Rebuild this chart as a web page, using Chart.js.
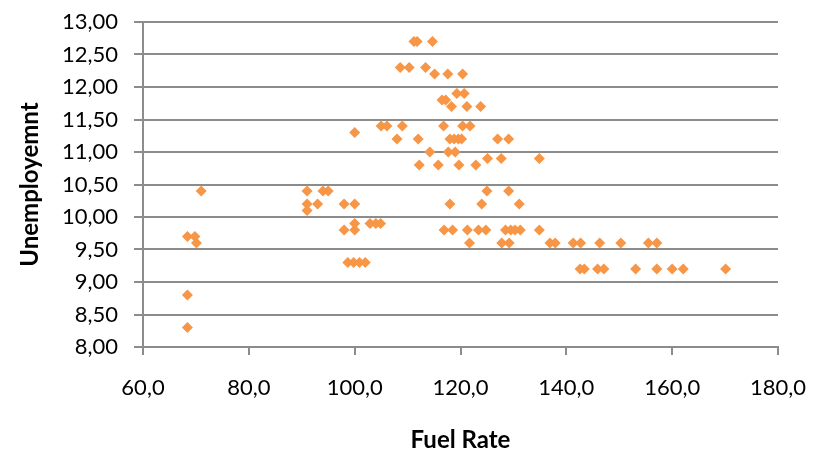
<!DOCTYPE html>
<html>
<head>
<meta charset="utf-8">
<script src="https://cdn.jsdelivr.net/npm/chart.js@4"></script>
<style>
  body { margin: 0; background: #fff; }
  #wrap { width: 813px; height: 455px; }
</style>
</head>
<body>
<div id="wrap"><canvas id="nuage"></canvas></div>
<script>
// ---------------- donnees ----------------
var fuelRate = [
  68.4, 68.4, 68.4, 69.8, 70.1, 71.0,
  91.0, 91.0, 91.0, 93.0, 94.0, 95.0,
  98.0, 98.0, 100.0, 100.0, 100.0, 100.0,
  98.7, 99.8, 100.9, 102.0, 102.9, 104.0, 104.9,
  105.0, 106.1, 108.0, 109.0, 108.6, 110.3, 113.4,
  111.2, 111.8, 114.7, 115.1, 117.6, 120.4,
  112.0, 112.2, 114.2, 115.8, 116.5, 117.2, 116.8, 117.7,
  118.0, 118.8, 119.6, 120.2, 119.0, 119.7, 119.3, 120.7,
  118.3, 121.2, 123.8, 120.4, 121.8, 122.9, 125.1, 127.7, 127.0, 129.1, 134.9,
  118.0, 124.0, 131.1, 125.0, 129.1,
  116.9, 118.5, 121.3, 123.4, 124.8, 128.5, 129.5, 130.3, 131.3, 134.9,
  121.7, 127.8, 129.2, 136.9, 137.9, 141.3, 142.7, 146.3, 150.3, 155.5, 157.1,
  142.6, 143.4, 145.9, 147.1, 153.1, 157.1, 160.0, 162.1, 170.1
];
var unemployment = [
  8.3, 8.8, 9.7, 9.7, 9.6, 10.4,
  10.4, 10.2, 10.1, 10.2, 10.4, 10.4,
  10.2, 9.8, 10.2, 9.8, 9.9, 11.3,
  9.3, 9.3, 9.3, 9.3, 9.9, 9.9, 9.9,
  11.4, 11.4, 11.2, 11.4, 12.3, 12.3, 12.3,
  12.7, 12.7, 12.7, 12.2, 12.2, 12.2,
  11.2, 10.8, 11.0, 10.8, 11.8, 11.8, 11.4, 11.0,
  11.2, 11.2, 11.2, 11.2, 11.0, 10.8, 11.9, 11.9,
  11.7, 11.7, 11.7, 11.4, 11.4, 10.8, 10.9, 10.9, 11.2, 11.2, 10.9,
  10.2, 10.2, 10.2, 10.4, 10.4,
  9.8, 9.8, 9.8, 9.8, 9.8, 9.8, 9.8, 9.8, 9.8, 9.8,
  9.6, 9.6, 9.6, 9.6, 9.6, 9.6, 9.6, 9.6, 9.6, 9.6, 9.6,
  9.2, 9.2, 9.2, 9.2, 9.2, 9.2, 9.2, 9.2, 9.2
];
var xTicks = [60, 80, 100, 120, 140, 160, 180];
var yTicks = [8, 8.5, 9, 9.5, 10, 10.5, 11, 11.5, 12, 12.5, 13];

// ---------------- construction du graphique ----------------
var points = [];
for (var i = 0; i < fuelRate.length; i++) {
  points.push({ x: fuelRate[i], y: unemployment[i] });
}

function virgule(v, n) {
  return v.toFixed(n).replace('.', ',');
}

Chart.defaults.font.family = 'Lato, "Open Sans", sans-serif';
Chart.defaults.color = '#000';

new Chart(document.getElementById('nuage'), {
  type: 'scatter',
  data: {
    datasets: [{
      label: 'Unemployemnt',
      data: points,
      pointStyle: 'rectRot',
      pointRadius: 5.5,
      pointHoverRadius: 5.5,
      backgroundColor: '#f79646',
      borderColor: '#f79646',
      borderWidth: 0
    }]
  },
  options: {
    responsive: true,
    maintainAspectRatio: false,
    animation: false,
    layout: { padding: { left: 0, right: 35, top: 22, bottom: 0 } },
    plugins: {
      legend: { display: false },
      tooltip: { enabled: false }
    },
    scales: {
      x: {
        type: 'linear',
        min: 60,
        max: 180,
        afterBuildTicks: function (scale) {
          scale.ticks = xTicks.map(function (v) { return { value: v }; });
        },
        afterFit: function (scale) {
          scale.height = 108;
          scale.paddingLeft = 0;
          scale.paddingRight = 0;
        },
        grid: {
          drawOnChartArea: false,
          drawTicks: true,
          tickLength: 8,
          color: '#8c8c8c',
          lineWidth: 2
        },
        border: { color: '#8c8c8c', width: 2 },
        ticks: {
          font: { size: 22 },
          padding: 20,
          maxRotation: 0,
          callback: function (v) { return virgule(v, 1); }
        },
        title: {
          display: true,
          text: 'Fuel Rate',
          font: { size: 24, weight: 'bold' },
          padding: { top: 10, bottom: 0 }
        }
      },
      y: {
        type: 'linear',
        min: 8,
        max: 13,
        afterBuildTicks: function (scale) {
          scale.ticks = yTicks.map(function (v) { return { value: v }; });
        },
        afterFit: function (scale) {
          scale.width = 143;
          scale.paddingTop = 0;
          scale.paddingBottom = 0;
        },
        grid: {
          drawTicks: true,
          tickLength: 9,
          color: '#8c8c8c',
          lineWidth: 2
        },
        border: { color: '#8c8c8c', width: 2 },
        ticks: {
          font: { size: 22 },
          padding: 16,
          callback: function (v) { return virgule(v, 2); }
        },
        title: {
          display: true,
          text: 'Unemployemnt',
          font: { size: 24, weight: 'bold' },
          padding: { top: 16, bottom: 0 }
        }
      }
    }
  }
});
</script>
</body>
</html>
